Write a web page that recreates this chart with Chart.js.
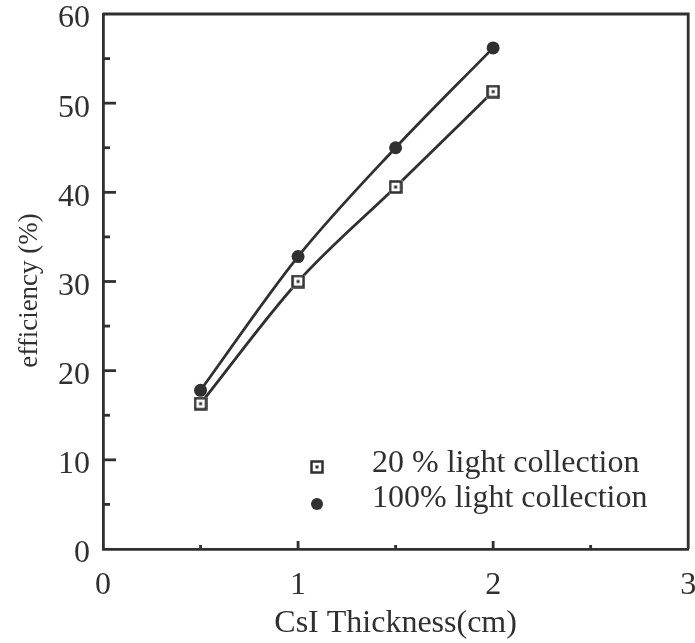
<!DOCTYPE html>
<html>
<head>
<meta charset="utf-8">
<script src="https://cdn.jsdelivr.net/npm/chart.js@4.4.1/dist/chart.umd.min.js"></script>
<style>
  html, body { margin: 0; padding: 0; background: #fff; }
  #wrap { width: 695px; height: 643px; }
</style>
</head>
<body>
<div id="wrap"><canvas id="myChart"></canvas></div>
<script>
// CsI thickness (cm) and detection efficiency (%)
let thickness = [0.5, 1, 1.5, 2];
let eff20 = [16.3, 30.0, 40.6, 51.3];
let eff100 = [17.8, 32.8, 45.0, 56.2];
let seriesNames = ["20 % light collection", "100% light collection"];
let yTitle = "efficiency (%)";
let xTicks = [0, 1, 2, 3];
let yTicks = [0, 10, 20, 30, 40, 50, 60];

const ink = "#303030";
const serif = "'Liberation Serif', 'DejaVu Serif', serif";

// open square with a dot in the middle
function squareMarker() {
  let c = document.createElement("canvas");
  c.width = 14;
  c.height = 14;
  let g = c.getContext("2d");
  g.fillStyle = "#fff";
  g.fillRect(0, 0, 14, 14);
  g.strokeStyle = ink;
  g.lineWidth = 2.5;
  g.strokeRect(1.5, 1.5, 11, 11);
  g.fillStyle = ink;
  g.fillRect(5.5, 5.5, 3, 3);
  return c;
}
const sq = squareMarker();

function toPoints(xs, ys) {
  return xs.map((x, i) => ({ x: x, y: ys[i] }));
}

// --- frame, inner ticks, y title and legend --- //
const decorations = {
  id: "decorations",
  afterDraw(chart) {
    let ctx = chart.ctx;
    let area = chart.chartArea;
    let xs = chart.scales.x;
    let ys = chart.scales.y;
    ctx.save();
    ctx.strokeStyle = ink;
    ctx.lineWidth = 2.8;
    ctx.lineCap = "butt";
    ctx.beginPath();
    ctx.moveTo(area.left, area.top);
    ctx.lineTo(area.right, area.top);
    ctx.lineTo(area.right, area.bottom);
    ctx.stroke();

    for (let v = 5; v < 60; v += 5) {
      let py = ys.getPixelForValue(v);
      let len = v % 10 === 0 ? 13 : 7;
      ctx.beginPath();
      ctx.moveTo(area.left, py);
      ctx.lineTo(area.left + len, py);
      ctx.stroke();
    }
    for (let v = 0.5; v < 3; v += 0.5) {
      let px = xs.getPixelForValue(v);
      let len = v % 1 === 0 ? 8 : 4;
      ctx.beginPath();
      ctx.moveTo(px, area.bottom);
      ctx.lineTo(px, area.bottom - len);
      ctx.stroke();
    }

    // rotated y title
    ctx.fillStyle = ink;
    ctx.font = "27px " + serif;
    ctx.textAlign = "center";
    ctx.textBaseline = "middle";
    ctx.save();
    ctx.translate(30, (area.top + area.bottom) / 2 + 9);
    ctx.rotate(-Math.PI / 2);
    ctx.fillText(yTitle, 0, 0);
    ctx.restore();

    // legend
    let lx = area.left + 214;
    let ly = area.bottom - 82;
    ctx.drawImage(sq, lx - 7, ly - 7);
    ctx.beginPath();
    ctx.arc(lx, ly + 37, 6, 0, Math.PI * 2);
    ctx.fill();
    ctx.font = "32px " + serif;
    ctx.textAlign = "left";
    ctx.fillText(seriesNames[0], lx + 55, ly - 3);
    ctx.fillText(seriesNames[1], lx + 55, ly + 32);
    ctx.restore();
  },
};

// drop the extra room Chart.js keeps for the outer tick labels
function noEdgePadding(scale) {
  scale.paddingLeft = 0;
  scale.paddingRight = 0;
  scale.paddingTop = 0;
  scale.paddingBottom = 0;
}

const ctx = document.getElementById("myChart");
const myChart = new Chart(ctx, {
  type: "line",
  data: {
    datasets: [
      {
        label: seriesNames[0],
        data: toPoints(thickness, eff20),
        borderColor: ink,
        borderWidth: 2.8,
        pointStyle: sq,
        cubicInterpolationMode: "monotone",
      },
      {
        label: seriesNames[1],
        data: toPoints(thickness, eff100),
        borderColor: ink,
        backgroundColor: ink,
        borderWidth: 2.8,
        pointStyle: "circle",
        pointRadius: 6.5,
        pointBorderWidth: 0,
        cubicInterpolationMode: "monotone",
      },
    ],
  },
  options: {
    responsive: true,
    maintainAspectRatio: false,
    animation: false,
    layout: { padding: { top: 14, right: 5, left: 0, bottom: 0 } },
    plugins: {
      legend: { display: false },
      tooltip: { enabled: false },
    },
    scales: {
      x: {
        type: "linear",
        min: 0,
        max: 3,
        afterBuildTicks: (scale) => {
          scale.ticks = xTicks.map((v) => ({ value: v }));
        },
        afterFit: (scale) => {
          scale.height = 94;
          noEdgePadding(scale);
        },
        grid: { display: false, drawTicks: false },
        border: { display: true, color: ink, width: 2.8 },
        ticks: {
          color: ink,
          padding: 17,
          maxRotation: 0,
          font: { family: serif, size: 32 },
        },
        title: {
          display: true,
          text: "CsI Thickness(cm)",
          color: ink,
          padding: { top: 0, bottom: 0 },
          font: { family: serif, size: 32 },
        },
      },
      y: {
        type: "linear",
        min: 0,
        max: 60,
        afterBuildTicks: (scale) => {
          scale.ticks = yTicks.map((v) => ({ value: v }));
        },
        afterFit: (scale) => {
          scale.width = 103;
          noEdgePadding(scale);
        },
        grid: { display: false, drawTicks: false },
        border: { display: true, color: ink, width: 2.8 },
        ticks: {
          color: ink,
          padding: 13,
          labelOffset: 5,
          font: { family: serif, size: 32 },
        },
      },
    },
  },
  plugins: [decorations],
});
</script>
</body>
</html>
